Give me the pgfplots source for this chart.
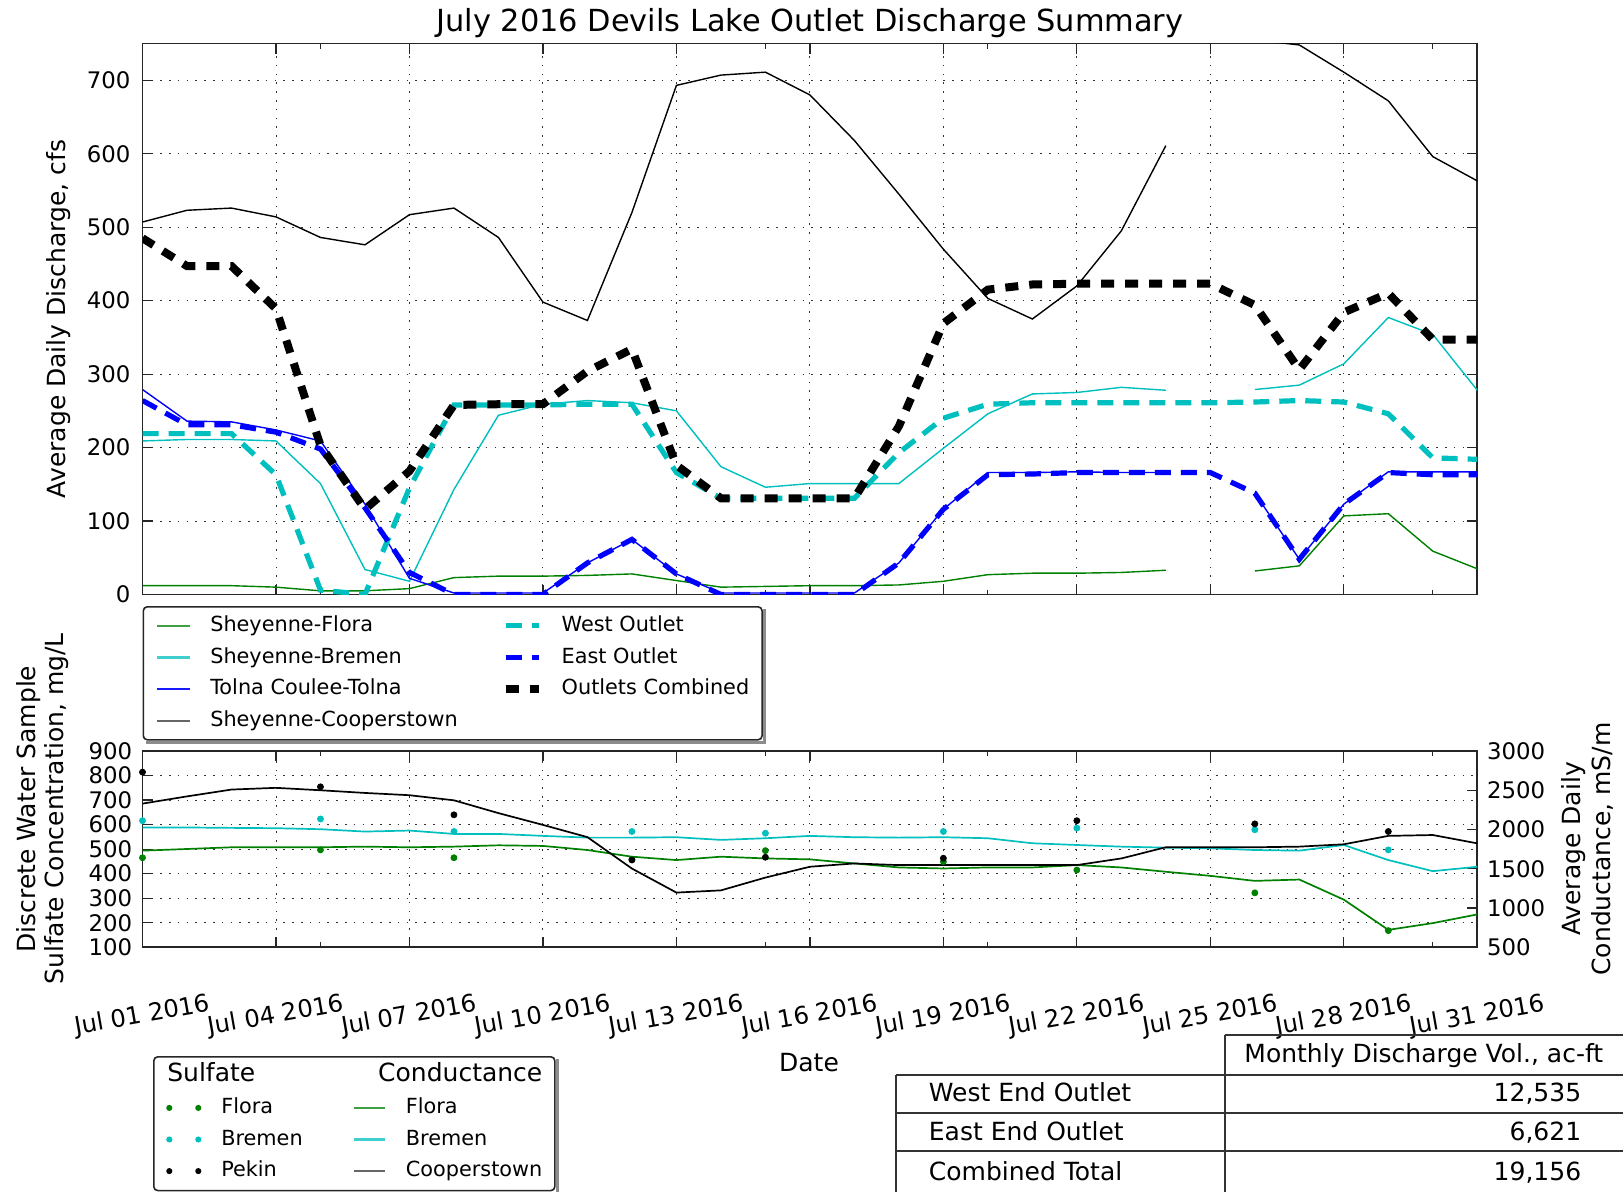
\documentclass[border=0pt]{standalone}
\usepackage{pgfplots}
\pgfplotsset{compat=1.18}
\usepackage{pgfplotstable}
\usepackage{fontspec}
\setmainfont{DejaVu Sans}

\definecolor{mgreen}{rgb}{0,0.5,0}
\definecolor{mcyan}{rgb}{0,0.75,0.75}
\definecolor{mblue}{rgb}{0,0,1}

\newcommand\tickfont{\fontsize{11.4}{13.7}\selectfont}
\newcommand\datefont{\fontsize{12.1}{14}\selectfont}
\newcommand\labfont{\fontsize{12.5}{14}\selectfont}
\newcommand\rlabfont{\fontsize{12.5}{15}\selectfont}
\newcommand\legfont{\fontsize{10.4}{12.5}\selectfont}
\newcommand\legheadfont{\fontsize{12.5}{15}\selectfont}
\newcommand\titlefont{\fontsize{15.2}{18}\selectfont}
\newcommand\tabfont{\fontsize{12.5}{15}\selectfont}

% daily discharge, cfs
\pgfplotstableread{
d flora bremen tolna coop west east comb
1 12 209 279 507 219 264 485
2 12 211 236 523 219 231 447
3 12 211 235 526 219 231 447
4 10 209 224 514 163 221 389
5 5 151 209 486 6 198 203
6 5 34 123 476 0 118 116
7 8 18 22 517 145 30 168
8 23 143 2 526 258 0 258
9 25 244 2 486 258 0 259
10 25 259 2 398 258 0 259
11 26 264 43 373 259 43 304
12 28 261 75 520 259 75 334
13 19 250 28 693 166 28 176
14 10 174 2 707 131 0 131
15 11 146 2 711 131 0 131
16 12 151 2 680 131 0 131
17 12 151 2 618 131 0 131
18 13 151 43 545 193 43 229
19 18 199 116 470 240 116 369
20 27 246 166 403 259 163 415
21 29 273 166 375 261 164 422
22 29 275 167 420 261 166 423
23 30 282 166 495 261 166 423
24 33 278 166 611 261 166 423
25 nan nan nan nan 261 166 423
26 32 279 138 755 262 138 394
27 39 285 48 748 264 48 306
28 107 314 123 711 262 123 384
29 110 377 167 672 246 166 410
30 59 354 167 596 186 163 347
31 35 278 167 563 184 163 347
}\flowdata

% average daily conductance
\pgfplotstableread{
d flora bremen coop
1 1731 2026 2330
2 1752 2026 2422
3 1774 2021 2509
4 1774 2017 2531
5 1774 2004 2500
6 1782 1974 2466
7 1774 1987 2437
8 1782 1944 2372
9 1799 1944 2209
10 1791 1919 2059
11 1739 1897 1903
12 1654 1897 1503
13 1611 1902 1197
14 1654 1868 1225
15 1632 1889 1388
16 1620 1919 1526
17 1568 1902 1568
18 1517 1897 1547
19 1504 1902 1547
20 1517 1889 1547
21 1517 1825 1547
22 1547 1803 1547
23 1517 1782 1632
24 1462 1769 1774
25 1410 1761 1774
26 1346 1739 1774
27 1363 1731 1782
28 1107 1803 1812
29 722 1611 1919
30 808 1470 1930
31 919 1526 1824
}\conddata

% discrete sulfate samples, mg/L
\pgfplotstableread{
d flora bremen pekin
1 465 616 814
5 497 623 754
8 465 572 640
12 458 572 456
15 494 565 467
19 449 572 463
22 415 586 616
26 322 579 603
29 168 497 572
}\sulfdata

\pgfplotsset{
  frame/.style={
    scale only axis, width=667.4pt, xmin=1, xmax=31,
    xtick={1,4,...,31}, minor xtick={5,10,...,30},
    tick align=inside, major tick length=5pt, minor tick length=2.5pt,
    axis line style={line width=0.9pt, black!85},
    every tick/.append style={black!85, line width=0.6pt},
    tick label style={font=\tickfont},
    /pgf/number format/assume math mode=true,
    /pgf/number format/1000 sep={},
    scaled y ticks=false,
    major grid style={black!80, line width=0.45pt, dash pattern=on 0.8pt off 3.6pt},
    yticklabel style={inner xsep=0pt},
  },
  lgFlora/.style={legend image code/.code={\draw[mgreen!75, line width=1.1pt] (0pt,0pt) -- (16.5pt,0pt);}},
  lgBremen/.style={legend image code/.code={\draw[mcyan!75, line width=1.1pt] (0pt,0pt) -- (16.5pt,0pt);}},
  lgTolna/.style={legend image code/.code={\draw[mblue!90, line width=1.1pt] (0pt,0pt) -- (16.5pt,0pt);}},
  lgCoop/.style={legend image code/.code={\draw[black!60, line width=1.1pt] (0pt,0pt) -- (16.5pt,0pt);}},
  lgWest/.style={legend image code/.code={\draw[mcyan, line width=2.6pt, dash pattern=on 8pt off 5pt] (0pt,0pt) -- (16.5pt,0pt);}},
  lgEast/.style={legend image code/.code={\draw[mblue, line width=2.6pt, dash pattern=on 8pt off 5pt] (0pt,0pt) -- (16.5pt,0pt);}},
  lgComb/.style={legend image code/.code={\draw[black, line width=4pt, dash pattern=on 6.5pt off 5.5pt] (0pt,0pt) -- (16.5pt,0pt);}},
  dGreen/.style={legend image code/.code={\fill[mgreen] (0pt,0pt) circle[radius=1.1pt] (14.5pt,0pt) circle[radius=1.1pt];}},
  dCyan/.style={legend image code/.code={\fill[mcyan] (0pt,0pt) circle[radius=1.1pt] (14.5pt,0pt) circle[radius=1.1pt];}},
  dBlack/.style={legend image code/.code={\fill[black] (0pt,0pt) circle[radius=1.1pt] (14.5pt,0pt) circle[radius=1.1pt];}},
  cGreen/.style={legend image code/.code={\draw[mgreen!75, line width=1.1pt] (0pt,0pt) -- (15.5pt,0pt);}},
  cCyan/.style={legend image code/.code={\draw[mcyan!75, line width=1.1pt] (0pt,0pt) -- (15.5pt,0pt);}},
  cBlack/.style={legend image code/.code={\draw[black!60, line width=1.1pt] (0pt,0pt) -- (15.5pt,0pt);}},
}

\begin{document}
\begin{tikzpicture}
\useasboundingbox (0,0) rectangle (811.5pt,595.5pt);
\clip (0,0) rectangle (811.5pt,595.5pt);

% ---------------- top: discharge ----------------
\begin{axis}[frame, at={(71.25pt,298.25pt)}, anchor=south west, height=275.5pt,
  ymin=0, ymax=750, ytick={0,100,...,700}, xticklabels={},
  xmajorgrids, ymajorgrids, yticklabel shift=5.9pt,
  unbounded coords=jump,
  legend columns=2, legend cell align=left,
  legend style={name=topleg, at={(axis description cs:0,0)}, anchor=north west, yshift=-5.75pt,
    draw=black!85, line width=0.8pt, rounded corners=2pt, fill=white,
    inner xsep=6.4pt, inner ysep=4.3pt, font=\legfont, row sep=5.7pt,
    nodes={inner sep=0pt, text height=7.9pt, text depth=2.3pt},
    /tikz/every odd column/.append style={column sep=9.5pt},
    /tikz/every even column/.append style={column sep=22pt}},
]
\addplot[mgreen, line width=0.7pt, forget plot] table[x=d, y=flora]{\flowdata};
\addplot[mcyan, line width=0.7pt, forget plot] table[x=d, y=bremen]{\flowdata};
\addplot[mblue, line width=0.7pt, forget plot] table[x=d, y=tolna]{\flowdata};
\addplot[black, line width=0.7pt, forget plot] table[x=d, y=coop]{\flowdata};
\addplot[mcyan, line width=2.6pt, dash pattern=on 8pt off 5pt, forget plot] table[x=d, y=west]{\flowdata};
\addplot[mblue, line width=2.6pt, dash pattern=on 8pt off 5pt, forget plot] table[x=d, y=east]{\flowdata};
\addplot[black, line width=4pt, dash pattern=on 6.5pt off 5.5pt, forget plot] table[x=d, y=comb]{\flowdata};
\addlegendimage{lgFlora}\addlegendentry{Sheyenne-Flora}
\addlegendimage{lgWest}\addlegendentry{West Outlet}
\addlegendimage{lgBremen}\addlegendentry{Sheyenne-Bremen}
\addlegendimage{lgEast}\addlegendentry{East Outlet}
\addlegendimage{lgTolna}\addlegendentry{Tolna Coulee-Tolna}
\addlegendimage{lgComb}\addlegendentry{Outlets Combined}
\addlegendimage{lgCoop}\addlegendentry{Sheyenne-Cooperstown}
\end{axis}

% ---------------- bottom: left axis frame + grid ----------------
\begin{axis}[frame, at={(71.25pt,121.85pt)}, anchor=south west, height=98.15pt,
  ymin=100, ymax=900, ytick={100,200,...,900}, ytick pos=left,
  xmajorgrids, ymajorgrids, yticklabel shift=5pt,
  xticklabels={Jul 01 2016, Jul 04 2016, Jul 07 2016, Jul 10 2016, Jul 13 2016, Jul 16 2016, Jul 19 2016, Jul 22 2016, Jul 25 2016, Jul 28 2016, Jul 31 2016},
  xticklabel style={font=\datefont, rotate=10, anchor=center}, xticklabel shift=34.3pt,
]
\end{axis}

% ---------------- bottom: conductance (right axis) ----------------
\begin{axis}[frame, at={(71.25pt,121.85pt)}, anchor=south west, height=98.15pt,
  ymin=500, ymax=3000, ytick={500,1000,...,3000},
  axis x line=none, axis y line*=right, yticklabel shift=4.7pt,
  legend columns=2, legend cell align=left,
  legend style={name=botleg, at={(axis description cs:0,0)}, anchor=north west, xshift=5.25pt, yshift=-54.35pt,
    draw=black!85, line width=0.8pt, rounded corners=2pt, fill=white,
    inner xsep=6.25pt, inner ysep=4.65pt, font=\legfont, row sep=5.6pt,
    nodes={inner sep=0pt, text height=7.9pt, text depth=2.3pt},
    /tikz/every odd column/.append style={column sep=10pt},
    /tikz/every even column/.append style={column sep=25pt}},
]
\addplot[mgreen, line width=0.85pt, forget plot] table[x=d, y=flora]{\conddata};
\addplot[mcyan, line width=0.85pt, forget plot] table[x=d, y=bremen]{\conddata};
\addplot[black, line width=0.85pt, forget plot] table[x=d, y=coop]{\conddata};
\addlegendimage{empty legend}\addlegendentry{\makebox[0pt][l]{\hspace*{-27.5pt}\legheadfont Sulfate}}
\addlegendimage{empty legend}\addlegendentry{\hphantom{Cooperstown}\makebox[0pt][r]{\legheadfont Conductance}}
\addlegendimage{dGreen}\addlegendentry{Flora}
\addlegendimage{cGreen}\addlegendentry{Flora}
\addlegendimage{dCyan}\addlegendentry{Bremen}
\addlegendimage{cCyan}\addlegendentry{Bremen}
\addlegendimage{dBlack}\addlegendentry{Pekin}
\addlegendimage{cBlack}\addlegendentry{Cooperstown}
\end{axis}

% ---------------- bottom: sulfate samples (left axis scale) ----------------
\begin{axis}[frame, at={(71.25pt,121.85pt)}, anchor=south west, height=98.15pt,
  ymin=100, ymax=900, hide axis]
\addplot[only marks, mark=*, mark size=1.5pt, mgreen] table[x=d, y=flora]{\sulfdata};
\addplot[only marks, mark=*, mark size=1.5pt, mcyan] table[x=d, y=bremen]{\sulfdata};
\addplot[only marks, mark=*, mark size=1.5pt, black] table[x=d, y=pekin]{\sulfdata};
\end{axis}

% legend shadows (right and bottom strips)
\fill[black!45] ([yshift=-1.6pt]topleg.north east) rectangle ([xshift=1.6pt,yshift=-1.6pt]topleg.south east);
\fill[black!45] ([xshift=1.6pt]topleg.south west) rectangle ([xshift=1.6pt,yshift=-1.6pt]topleg.south east);
\fill[black!45] ([yshift=-1.6pt]botleg.north east) rectangle ([xshift=1.6pt,yshift=-1.6pt]botleg.south east);

% ---------------- titles and labels ----------------
\node[font=\titlefont, anchor=base] at (404.95pt,579.5pt) {July 2016 Devils Lake Outlet Discharge Summary};
\node[font=\labfont, rotate=90] at (29.15pt,436pt) {Average Daily Discharge, cfs};
\node[font=\labfont, rotate=90, align=center] at (21.5pt,191pt) {Discrete Water Sample\\Sulfate Concentration, mg/L};
\node[font=\rlabfont, rotate=90, align=center] at (793.5pt,171pt) {Average Daily\\Conductance, mS/m};
\node[font=\labfont] at (404.5pt,64pt) {Date};

% ---------------- table ----------------
\begin{scope}[line width=1pt, black!80]
\draw (612.25pt,78pt) -- (815pt,78pt);
\draw (612.25pt,78pt) -- (612.25pt,-5pt);
\draw (448.2pt,58.25pt) -- (815pt,58.25pt);
\draw (448.2pt,39.1pt) -- (815pt,39.1pt);
\draw (448.2pt,20pt) -- (815pt,20pt);
\draw (448.2pt,58.25pt) -- (448.2pt,-5pt);
\end{scope}
\begin{scope}[font=\tabfont, inner sep=0pt]
\node[anchor=base] at (711.9pt,64.2pt) {Monthly Discharge Vol., ac-ft};
\node[anchor=base west] at (464.25pt,44.9pt) {West End Outlet};
\node[anchor=base west] at (464.25pt,25.2pt) {East End Outlet};
\node[anchor=base west] at (464.25pt,5.05pt) {Combined Total};
\node[anchor=base east] at (790.8pt,44.9pt) {12,535};
\node[anchor=base east] at (790.8pt,25.2pt) {6,621};
\node[anchor=base east] at (790.8pt,5.05pt) {19,156};
\end{scope}
\end{tikzpicture}
\end{document}
